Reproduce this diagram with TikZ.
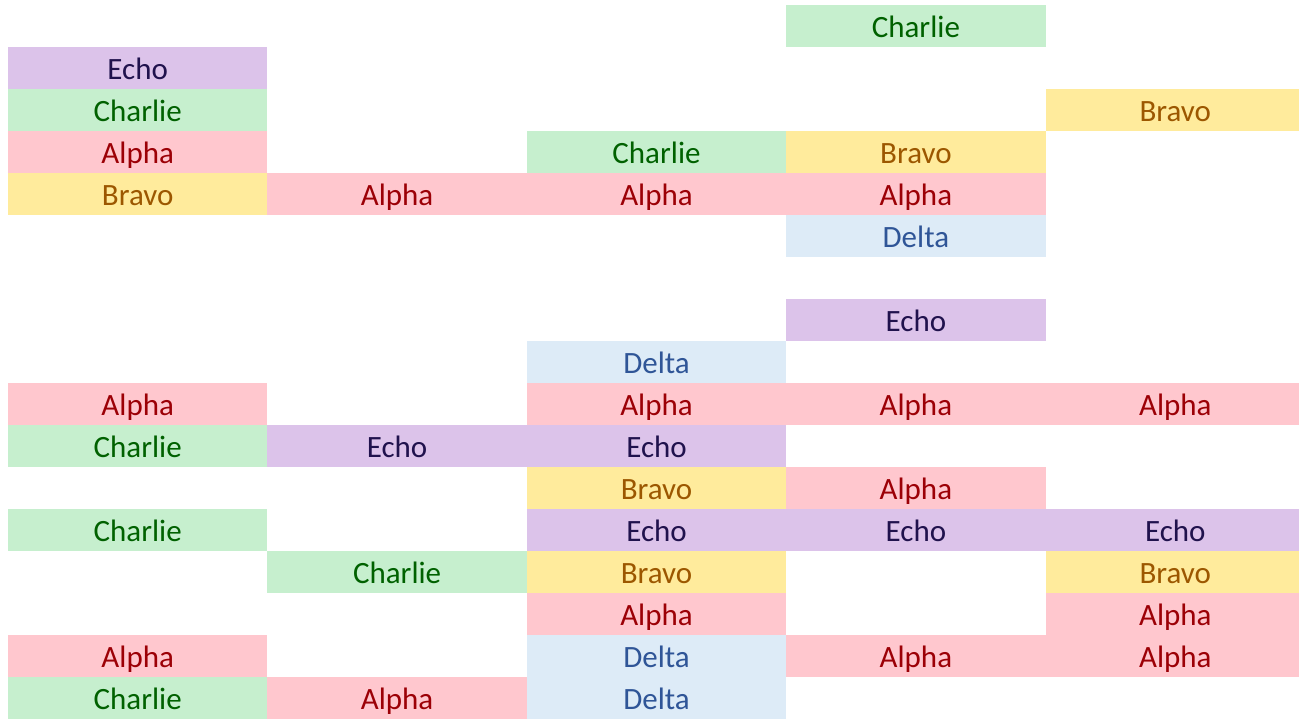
\documentclass[tikz,border=0pt]{standalone}
\usepackage{fontspec}
\setmainfont{Carlito}
\definecolor{afill}{HTML}{FFC7CE}\definecolor{atext}{HTML}{9C0006}
\definecolor{bfill}{HTML}{FFEB9C}\definecolor{btext}{HTML}{9C5700}
\definecolor{cfill}{HTML}{C6EFCE}\definecolor{ctext}{HTML}{006100}
\definecolor{dfill}{HTML}{DDEBF7}\definecolor{dtext}{HTML}{2F5597}
\definecolor{efill}{HTML}{DCC3EA}\definecolor{etext}{HTML}{20124D}
\tikzset{
  cell/.style={rectangle,inner sep=0pt,outer sep=0pt,minimum width=259.4pt,minimum height=42pt,
    text height=22pt,text depth=0pt,font=\fontsize{31}{32}\selectfont,anchor=north west},
  alpha/.style={cell,fill=afill,text=atext},
  bravo/.style={cell,fill=bfill,text=btext},
  charlie/.style={cell,fill=cfill,text=ctext},
  delta/.style={cell,fill=dfill,text=dtext},
  echo/.style={cell,fill=efill,text=etext},
}
\newcommand{\cellat}[4]{% style, col, row, text
  \node[#1] (n-#3-#2) at ({8pt+259.4pt*#2},{-5pt-42pt*#3}) {#4};}
\begin{document}
\begin{tikzpicture}[x=1pt,y=1pt]
\useasboundingbox (0,0) rectangle (1299,-720);
\cellat{charlie}{3}{0}{Charlie}
\cellat{echo}{0}{1}{Echo}
\cellat{charlie}{0}{2}{Charlie}
\cellat{bravo}{4}{2}{Bravo}
\cellat{alpha}{0}{3}{Alpha}
\cellat{charlie}{2}{3}{Charlie}
\cellat{bravo}{3}{3}{Bravo}
\cellat{bravo}{0}{4}{Bravo}
\cellat{alpha}{1}{4}{Alpha}
\cellat{alpha}{2}{4}{Alpha}
\cellat{alpha}{3}{4}{Alpha}
\cellat{delta}{3}{5}{Delta}
\cellat{echo}{3}{7}{Echo}
\cellat{delta}{2}{8}{Delta}
\cellat{alpha}{0}{9}{Alpha}
\cellat{alpha}{2}{9}{Alpha}
\cellat{alpha}{3}{9}{Alpha}
\cellat{alpha}{4}{9}{Alpha}
\cellat{charlie}{0}{10}{Charlie}
\cellat{echo}{1}{10}{Echo}
\cellat{echo}{2}{10}{Echo}
\cellat{bravo}{2}{11}{Bravo}
\cellat{alpha}{3}{11}{Alpha}
\cellat{charlie}{0}{12}{Charlie}
\cellat{echo}{2}{12}{Echo}
\cellat{echo}{3}{12}{Echo}
\cellat{echo}{4}{12}{Echo}
\cellat{charlie}{1}{13}{Charlie}
\cellat{bravo}{2}{13}{Bravo}
\cellat{bravo}{4}{13}{Bravo}
\cellat{alpha}{2}{14}{Alpha}
\cellat{alpha}{4}{14}{Alpha}
\cellat{alpha}{0}{15}{Alpha}
\cellat{delta}{2}{15}{Delta}
\cellat{alpha}{3}{15}{Alpha}
\cellat{alpha}{4}{15}{Alpha}
\cellat{charlie}{0}{16}{Charlie}
\cellat{alpha}{1}{16}{Alpha}
\cellat{delta}{2}{16}{Delta}
\end{tikzpicture}
\end{document}
